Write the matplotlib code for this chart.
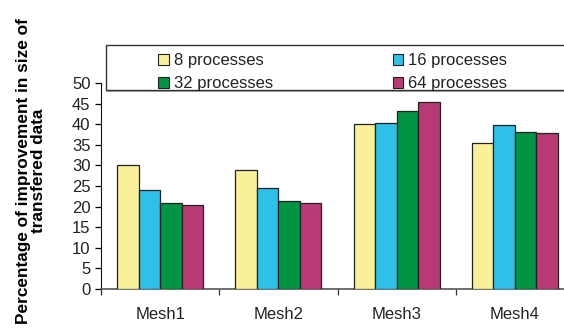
import matplotlib

matplotlib.use("Agg")

import matplotlib.pyplot as plt
import numpy as np
from matplotlib.patches import Patch, Rectangle

plt.rcParams["font.family"] = ["Liberation Sans", "DejaVu Sans"]
plt.rcParams["font.size"] = 12

MALHAS = ["Mesh1", "Mesh2", "Mesh3", "Mesh4"]
PROCESSOS = ["8 processes", "16 processes", "32 processes", "64 processes"]

MELHORIA_8 = [30.2, 28.8, 40.1, 35.4]
MELHORIA_16 = [24.1, 24.4, 40.4, 39.8]
MELHORIA_32 = [20.8, 21.3, 43.2, 38.1]
MELHORIA_64 = [20.3, 20.8, 45.5, 38.0]

CORES = ["#faf09a", "#2ec0e8", "#009444", "#b73a74"]

W, H = 564, 329
fig = plt.figure(figsize=(W / 100, H / 100), dpi=100)

# eixo começa em x=101 px e passa um pouco da borda direita
ax = fig.add_axes([101 / W, 40.3 / H, 473 / W, 205.4 / H])

series = [MELHORIA_8, MELHORIA_16, MELHORIA_32, MELHORIA_64]
x = np.arange(len(MALHAS))
largura = 0.182

for i, (valores, cor) in enumerate(zip(series, CORES)):
    ax.bar(
        x + (i - 1.5) * largura,
        valores,
        width=largura,
        color=cor,
        edgecolor="#222222",
        linewidth=0.9,
        zorder=3,
    )

ax.set_xlim(-0.5, 3.5)
ax.set_ylim(0, 50)
ax.set_yticks(range(0, 51, 5))

ax.set_xticks([-0.5, 0.5, 1.5, 2.5])
ax.set_xticklabels([])
ax.set_xticks(x, minor=True)
ax.set_xticklabels(MALHAS, minor=True)
ax.tick_params(axis="x", which="major", direction="out", length=4.5, width=0.9, color="#333333")
ax.tick_params(axis="x", which="minor", length=0, pad=13, labelcolor="#222222")
ax.tick_params(axis="y", direction="out", length=4.5, width=0.9, pad=3, labelcolor="#222222")

ax.spines["top"].set_visible(False)
ax.spines["right"].set_visible(False)
ax.spines["left"].set_color("#111111")
ax.spines["bottom"].set_color("#555555")
ax.spines["bottom"].set_linewidth(1.2)

ax.set_ylabel(
    "Percentage of improvement in size of\ntransfered data",
    fontsize=12.4,
    fontweight="bold",
    linespacing=1.0,
)
ax.yaxis.set_label_coords(-0.116, 0.575)

# caixa da legenda (vai até além da borda direita)
caixa = Rectangle(
    (106 / W, 1 - 90 / H),
    480 / W,
    45 / H,
    transform=fig.transFigure,
    facecolor="white",
    edgecolor="#333333",
    linewidth=1.0,
    zorder=5,
)
fig.patches.append(caixa)
fig.add_artist(
    plt.Line2D(
        [107 / W, 1],
        [1 - 91.2 / H, 1 - 91.2 / H],
        transform=fig.transFigure,
        color="#999999",
        linewidth=1.2,
        zorder=5,
    )
)

# ordem por linha: 8 e 16 em cima, 32 e 64 embaixo
ordem = [0, 2, 1, 3]
handles = [Patch(facecolor=CORES[i], edgecolor="#222222", linewidth=0.8) for i in ordem]
rotulos = [PROCESSOS[i] for i in ordem]
leg = fig.legend(
    handles,
    rotulos,
    loc="upper left",
    bbox_to_anchor=(150 / W, 1 - 45 / H),
    ncol=2,
    frameon=False,
    borderpad=0,
    handlelength=0.64,
    handleheight=0.64,
    handletextpad=0.3,
    columnspacing=7.18,
    labelspacing=0.48,
    fontsize=12,
)
leg.set_zorder(6)
for t in leg.get_texts():
    t.set_color("#222222")

fig.savefig("out.png", dpi=100)
